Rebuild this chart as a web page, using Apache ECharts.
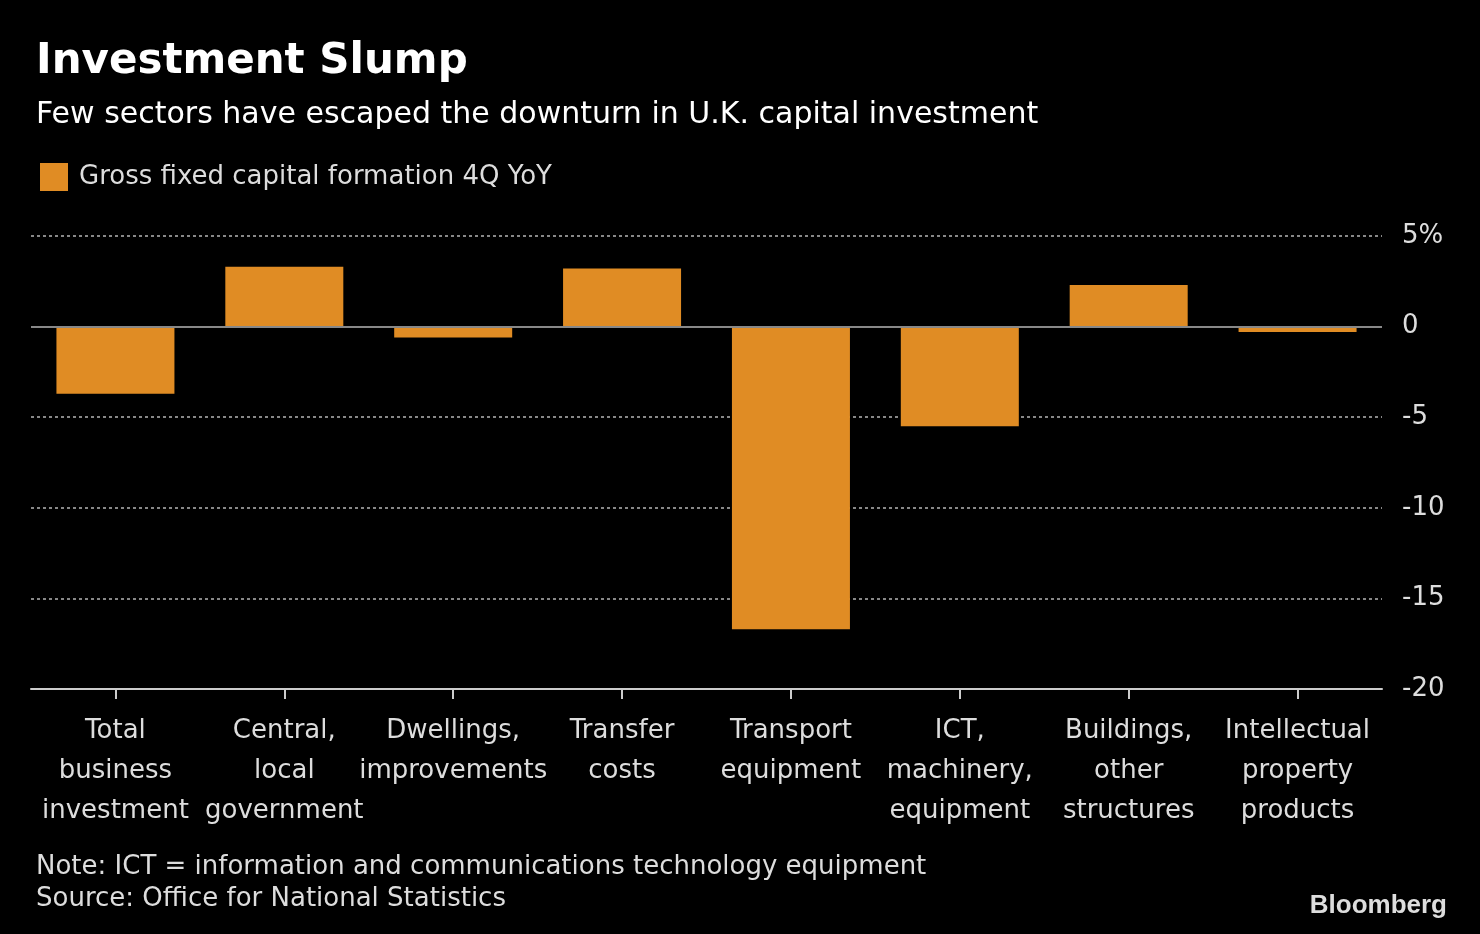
<!DOCTYPE html>
<html><head><meta charset="utf-8">
<script src="https://cdn.jsdelivr.net/npm/echarts@6/dist/echarts.min.js"></script>
<style>html,body{margin:0;background:#000}#c{width:1480px;height:934px}</style>
</head><body><div id="c"></div>
<script>
const categories = ["Total\nbusiness\ninvestment","Central,\nlocal\ngovernment","Dwellings,\nimprovements","Transfer\ncosts","Transport\nequipment","ICT,\nmachinery,\nequipment","Buildings,\nother\nstructures","Intellectual\nproperty\nproducts"];
const values = [-3.7, 3.3, -0.6, 3.2, -16.7, -5.5, 2.3, -0.3];
const yTicks = {"5":"5%","0":"0","-5":"-5","-10":"-10","-15":"-15","-20":"-20"};
const F = "'DejaVu Sans',sans-serif";
const chart = echarts.init(document.getElementById('c'));
chart.setOption({
  backgroundColor:'#000',
  title:[
    {text:'Investment Slump',left:31,top:36,textStyle:{color:'#fff',fontSize:42,fontWeight:'bold',fontFamily:F}},
    {text:'Few sectors have escaped the downturn in U.K. capital investment',left:31,top:95,textStyle:{color:'#fff',fontSize:30,fontWeight:'normal',fontFamily:F}},
    {text:'Note: ICT = information and communications technology equipment\nSource: Office for National Statistics',left:31,top:846,textStyle:{color:'#ddd',fontSize:26,lineHeight:32,fontWeight:'normal',fontFamily:F}},
    {text:'Bloomberg',right:28,top:888,textStyle:{color:'#ddd',fontSize:26,fontWeight:'bold',fontFamily:'Liberation Sans'}}
  ],
  legend:{left:35,top:158,itemWidth:28,itemHeight:28,itemGap:12,icon:'rect',
    textStyle:{color:'#ddd',fontSize:26,fontFamily:F,padding:[0,0,0,6]},data:['Gross fixed capital formation 4Q YoY']},
  grid:{left:31,right:98,top:236,bottom:245},
  xAxis:{type:'category',data:categories,
    axisLine:{onZero:false,lineStyle:{color:'#ccc',width:2}},
    axisTick:{show:true,interval:0,alignWithLabel:true,length:10,lineStyle:{color:'#ccc',width:2}},
    axisLabel:{color:'#ddd',fontSize:26,lineHeight:40,fontFamily:F,margin:22,interval:0}},
  yAxis:{type:'value',position:'right',min:-20,max:5,interval:5,
    axisLine:{show:false},axisTick:{show:false},
    axisLabel:{color:'#ddd',fontSize:26,fontFamily:F,margin:20,formatter:v=>yTicks[String(v)]},
    splitLine:{lineStyle:{color:'#888',type:[3,3],width:2}}},
  series:[{name:'Gross fixed capital formation 4Q YoY',type:'bar',data:values,barWidth:118,
    itemStyle:{color:'#E08C24'},
    markLine:{silent:true,symbol:'none',label:{show:false},lineStyle:{color:'#888',type:'solid',width:2},data:[{yAxis:0}]}}]
});
</script></body></html>
